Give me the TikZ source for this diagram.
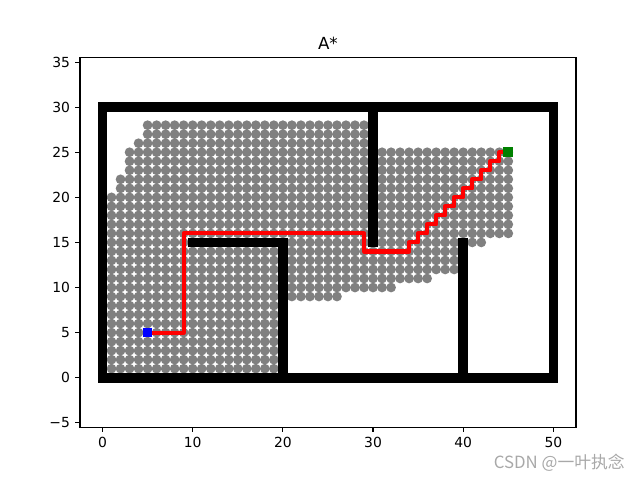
\documentclass[tikz,border=0pt]{standalone}
\usepackage{fontspec}
\setmainfont{DejaVu Sans}
\newfontfamily\cjk{Noto Sans CJK SC}
\definecolor{dotc}{HTML}{808080}
\definecolor{mplblue}{HTML}{0000FF}
\definecolor{mplgreen}{HTML}{008000}
\definecolor{mplred}{HTML}{FF0000}
\definecolor{wmark}{HTML}{A8A8A8}
\tikzset{
  dotmark/.style={fill=dotc},
  wallfill/.style={fill=black},
  pathline/.style={draw=mplred, line width=3.1pt, line join=round},
  framebox/.style={draw=black, line width=0.83pt},
  tickmark/.style={draw=black, line width=0.83pt},
  ticklabel/.style={font=\fontsize{10.42}{12}\selectfont, inner sep=0pt},
  titlelabel/.style={font=\fontsize{12.5}{14}\selectfont, inner sep=0pt},
  marksq/.style={minimum size=7.29pt, inner sep=0pt, draw=none}
}
\begin{document}
\begin{tikzpicture}[x=0.75pt,y=0.75pt]
\useasboundingbox (0,0) rectangle (640,480);
\begin{scope}[xshift=76.875pt, yshift=76.725pt, x=6.7636pt, y=6.7636pt]
  % frame
  \draw[framebox] (-2.5,-5.49) rectangle (52.5,35.49);
  % explored cells
  \foreach \y in {1,...,14} { \foreach \x in {1,...,19} { \fill[dotmark] (\x,\y) circle[radius=3.645pt]; } }
  \foreach \y/\a/\b in {9/21/26, 10/21/32, 11/21/36, 12/21/39, 13/21/39, 14/21/39,
      15/1/9, 15/21/29, 15/31/39, 15/41/42,
      16/1/29, 17/1/29, 18/1/29, 19/1/29, 20/1/29,
      21/2/29, 22/2/29, 23/3/29, 24/3/29, 25/3/29, 26/4/29, 27/5/29, 28/5/29,
      16/31/45, 17/31/45, 18/31/45, 19/31/45, 20/31/45, 21/31/45, 22/31/45, 23/31/45, 24/31/45, 25/31/45}
    { \foreach \x in {\a,...,\b} { \fill[dotmark] (\x,\y) circle[radius=3.645pt]; } }
  % walls
  \fill[wallfill] (-0.539,-0.539) rectangle (50.539,0.539);
  \fill[wallfill] (-0.539,29.461) rectangle (50.539,30.539);
  \fill[wallfill] (-0.539,-0.539) rectangle (0.539,30.539);
  \fill[wallfill] (49.461,-0.539) rectangle (50.539,30.539);
  \fill[wallfill] (19.461,-0.539) rectangle (20.539,15.539);
  \fill[wallfill] (9.461,14.461) rectangle (20.539,15.539);
  \fill[wallfill] (29.461,14.461) rectangle (30.539,30.539);
  \fill[wallfill] (39.461,-0.539) rectangle (40.539,15.539);
  % path
  \coordinate (s) at (5,5);
  \coordinate (g) at (45,25);
  \draw[pathline] (s) -- (9,5) -- (9,16) -- (29,16) -- (29,14) -- (34,14)
    -- (34,15) -- (35,15) -- (35,16) -- (36,16) -- (36,17) -- (37,17)
    -- (37,18) -- (38,18) -- (38,19) -- (39,19) -- (39,20) -- (40,20)
    -- (40,21) -- (41,21) -- (41,22) -- (42,22) -- (42,23) -- (43,23)
    -- (43,24) -- (44,24) -- (44,25) -- (g);
  \node[marksq, fill=mplblue] (start) at (s) {};
  \node[marksq, fill=mplgreen] (goal) at (g) {};
  % ticks
  \foreach \v in {0,10,20,30,40,50} {
    \draw[tickmark] (\v,-5.49) -- ++(0,-3.65pt);
    \node[ticklabel, anchor=north] (xl\v) at ([yshift=-7.29pt]\v,-5.49) {\v};
  }
  \foreach \v/\t in {-5/−5,0/0,5/5,10/10,15/15,20/20,25/25,30/30,35/35} {
    \draw[tickmark] (-2.5,\v) -- ++(-3.65pt,0);
    \node[ticklabel, anchor=east] (yl\v) at ([xshift=-7.29pt]-2.5,\v) {\t};
  }
  \node[titlelabel, anchor=base] (title) at ([yshift=6.25pt]25,35.49) {A*};
\end{scope}
\node[anchor=east, inner sep=0pt, text=wmark, font=\cjk\fontsize{12.6}{14}\selectfont] (wm) at (625,17) {CSDN @一叶执念};
\end{tikzpicture}
\end{document}
